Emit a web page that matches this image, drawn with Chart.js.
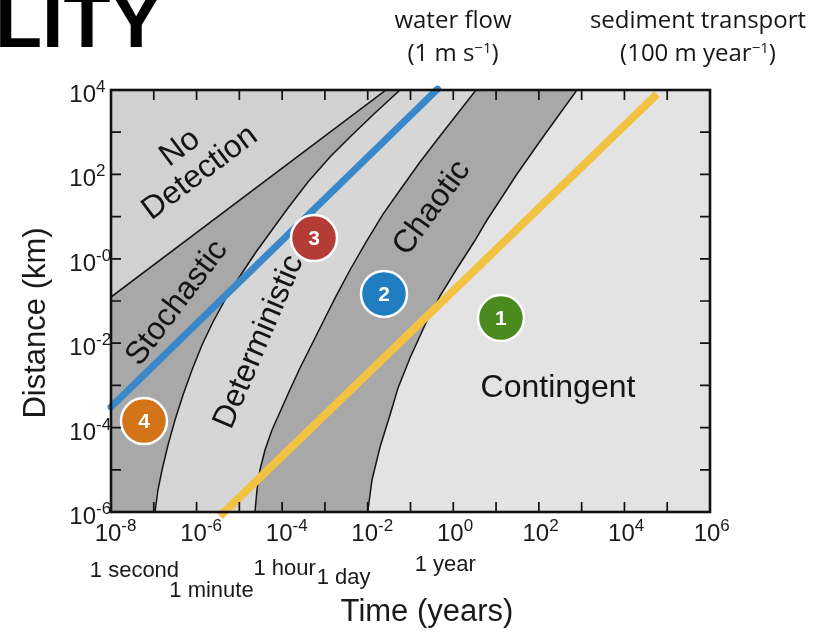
<!DOCTYPE html>
<html><head><meta charset="utf-8">
<script src="https://cdn.jsdelivr.net/npm/chart.js@4.4.1/dist/chart.umd.min.js"></script>
<style>html,body{margin:0;padding:0;background:#fff;}#wrap{width:820px;height:633px;position:relative;}</style>
</head><body><div id="wrap"><canvas id="c" width="820" height="633"></canvas></div>
<script>
// ---------- DATA (time in years, distance in km) ----------
const xMin = 1e-8, xMax = 1e6, yMin = 1e-6, yMax = 1e4;

// Boundary: No Detection | Stochastic (straight in log-log)
const curveA = [{x:1e-8, y:0.124}, {x:2.67e-2, y:1e4}];
// Boundary: Stochastic | Deterministic
const curveB = [
  {x:1.07e-7,y:1e-6},{x:1.25e-7,y:3.32e-6},{x:1.56e-7,y:9.89e-6},{x:2.15e-7,y:3.87e-5},
  {x:3.13e-7,y:1.51e-4},{x:4.82e-7,y:5.93e-4},{x:7.82e-7,y:2.32e-3},{x:1.34e-6,y:9.06e-3},
  {x:2.42e-6,y:3.18e-2},{x:4.61e-6,y:0.106},{x:1.04e-5,y:0.391},{x:2.45e-5,y:1.45},
  {x:5.79e-5,y:4.81},{x:1.37e-4,y:16.0},{x:4.02e-4,y:66.1},{x:1.31e-3,y:258},
  {x:4.30e-3,y:859},{x:1.48e-2,y:2850},{x:5.69e-2,y:1e4}
];
// Boundary: Deterministic | Chaotic
const curveC = [
  {x:2.32e-5,y:1e-6},{x:2.58e-5,y:3.32e-6},{x:3.03e-5,y:9.89e-6},{x:3.97e-5,y:2.94e-5},
  {x:5.79e-5,y:8.77e-5},{x:8.91e-5,y:2.34e-4},{x:1.37e-4,y:6.25e-4},{x:2.61e-4,y:2.58e-3},
  {x:4.99e-4,y:9.57e-3},{x:9.51e-4,y:3.55e-2},{x:1.82e-3,y:0.131},{x:3.85e-3,y:0.543},
  {x:9.12e-3,y:2.50},{x:2.28e-2,y:11.5},{x:5.69e-2,y:42.7},{x:0.167,y:197},
  {x:0.489,y:813},{x:1.29,y:2850},{x:3.40,y:1e4}
];
// Boundary: Chaotic | Contingent
const curveD = [
  {x:1.0e-2,y:1e-6},{x:1.26e-2,y:5.73e-6},{x:1.94e-2,y:3.47e-5},{x:3.32e-2,y:1.99e-4},
  {x:5.11e-2,y:8.68e-4},{x:9.73e-2,y:4.46e-3},{x:0.218,y:2.70e-2},{x:0.489,y:0.131},
  {x:1.16,y:0.543},{x:3.05,y:2.50},{x:6.14,y:8.30},{x:12.4,y:24.7},
  {x:30.8,y:102},{x:125,y:769},{x:778,y:1e4}
];
// Transport lines
const waterFlow = [{x:1e-8, y:3.08e-4}, {x:0.43, y:1.05e4}];      // 1 m/s
const sedimentTransport = [{x:3.53e-6, y:8.0e-7}, {x:5.77e4, y:8.0e3}]; // 100 m/yr
// Numbered sites
const siteLabels = ['1','2','3','4'];
const siteX = [13.0, 2.40e-2, 5.56e-4, 5.90e-8];
const siteY = [3.95e-2, 0.147, 3.11, 1.43e-4];
const siteColors = ['#4b8a1f','#1f7dc0','#b43c37','#d37419'];
// Ticks
const xTickMarks = [1e-8,1e-7,1e-6,1e-5,1e-4,1e-3,1e-2,1e-1,1,1e1,1e2,1e3,1e4,1e5,1e6];
const yTickMarks = [1e-6,1e-5,1e-4,1e-3,1e-2,1e-1,1,1e1,1e2,1e3,1e4];
const xLabelValues = [1e-8,1e-6,1e-4,1e-2,1,1e2,1e4,1e6];
const xLabelExp = ['-8','-6','-4','-2','0','2','4','6'];
const yLabelValues = [1e4,1e2,1,1e-2,1e-4,1e-6];
const yLabelExp = ['4','2','-0','-2','-4','-6'];
const timeRefLabels = ['1 second','1 minute','1 hour','1 day','1 year'];
const timeRefValues = [3.17e-8, 1.90e-6, 1.14e-4, 2.74e-3, 1];

// ---------- STYLE ----------
const C_CONT = '#e3e3e3', C_CHAO = '#a9a8a8', C_DET = '#d6d6d6', C_STO = '#a8a8a8', C_NOD = '#d1d1d1';
const leftCorners = [{x:xMin,y:yMax},{x:xMin,y:yMin}];
const region = (label, data, color, order, bw) => ({
  type:'line', label, data, backgroundColor:color, borderColor:'#151515',
  borderWidth: bw, fill:'shape', pointRadius:0, tension:0, order
});

const SANS = '"Liberation Sans", Arial, sans-serif';
const HUM = '"Open Sans", Lato, sans-serif';

function drawParts(ctx, parts, x, y, align) {
  let total = 0;
  parts.forEach(p => { ctx.font = p.f; p.w = ctx.measureText(p.t).width; total += p.w; });
  let cx = align === 'center' ? x - total/2 : align === 'right' ? x - total : x;
  ctx.textAlign = 'left'; ctx.textBaseline = 'alphabetic';
  parts.forEach(p => { ctx.font = p.f; ctx.fillText(p.t, cx, y - (p.dy || 0)); cx += p.w; });
}
function rotText(ctx, txt, x, y, deg, font) {
  ctx.save(); ctx.translate(x, y); ctx.rotate(deg * Math.PI/180);
  ctx.font = font; ctx.textAlign = 'center'; ctx.textBaseline = 'middle';
  ctx.fillText(txt, 0, 0); ctx.restore();
}

const deco = {
  id: 'deco',
  afterDatasetsDraw(chart) {
    const {ctx, chartArea: a, scales: {x, y}} = chart;
    ctx.save();
    // site numbers
    const meta = chart.getDatasetMeta(chart.data.datasets.length - 1);
    ctx.fillStyle = '#fff'; ctx.font = 'bold 21px ' + SANS;
    ctx.textAlign = 'center'; ctx.textBaseline = 'middle';
    meta.data.forEach((pt, i) => ctx.fillText(siteLabels[i], pt.x, pt.y + 1));

    // region labels
    ctx.fillStyle = '#141414';
    const lf = '32px ' + SANS;
    rotText(ctx, 'No', 180, 148, -37, lf);
    rotText(ctx, 'Detection', 200, 173, -37, lf);
    rotText(ctx, 'Stochastic', 177, 303, -53, lf);
    rotText(ctx, 'Deterministic', 259, 342, -67, lf);
    rotText(ctx, 'Chaotic', 432, 208, -54, lf);
    ctx.font = lf; ctx.textAlign = 'center'; ctx.textBaseline = 'alphabetic';
    ctx.fillText('Contingent', 558, 397);

    // frame and inward ticks
    ctx.strokeStyle = '#111'; ctx.lineWidth = 1.7;
    const tl = 10;
    ctx.beginPath();
    xTickMarks.forEach(v => { const px = x.getPixelForValue(v);
      ctx.moveTo(px, a.bottom); ctx.lineTo(px, a.bottom - tl);
      ctx.moveTo(px, a.top); ctx.lineTo(px, a.top + tl); });
    yTickMarks.forEach(v => { const py = y.getPixelForValue(v);
      ctx.moveTo(a.left, py); ctx.lineTo(a.left + tl, py);
      ctx.moveTo(a.right, py); ctx.lineTo(a.right - tl, py); });
    ctx.stroke();
    ctx.lineWidth = 2.6;
    ctx.strokeRect(a.left, a.top, a.right - a.left, a.bottom - a.top);

    // tick labels
    ctx.fillStyle = '#1a1a1a';
    const bf = '24px ' + SANS, sf = '17px ' + SANS;
    yLabelValues.forEach((v, i) => {
      const py = y.getPixelForValue(v);
      ctx.font = bf; ctx.textAlign = 'right'; ctx.textBaseline = 'alphabetic';
      ctx.fillText('10', 96, py + 12);
      ctx.font = sf; ctx.textAlign = 'left';
      ctx.fillText(yLabelExp[i], 96, py + 2);
    });
    xLabelValues.forEach((v, i) => {
      const px = x.getPixelForValue(v);
      ctx.font = bf; ctx.textAlign = 'center'; ctx.textBaseline = 'alphabetic';
      const w = ctx.measureText('10').width;
      ctx.fillText('10', px - 3, 541);
      ctx.font = sf; ctx.textAlign = 'left';
      ctx.fillText(xLabelExp[i], px - 3 + w/2, 531);
    });
    // reference time labels
    const tOff = [577, 597, 575, 584, 571];
    const tDx = [2, 3, 0, 0, -8];
    ctx.font = '22px ' + SANS; ctx.textAlign = 'center'; ctx.textBaseline = 'alphabetic';
    timeRefValues.forEach((v, i) => ctx.fillText(timeRefLabels[i], x.getPixelForValue(v) + tDx[i], tOff[i]));

    // axis titles
    ctx.font = '31px ' + SANS; ctx.textAlign = 'center';
    ctx.fillText('Time (years)', 427, 621);
    ctx.save(); ctx.translate(45, 323); ctx.rotate(-Math.PI/2);
    ctx.fillText('Distance (km)', 0, 0); ctx.restore();

    // top annotations
    ctx.fillStyle = '#161616';
    const af = '24px ' + HUM, asf = '15px ' + HUM;
    ctx.font = af; ctx.textAlign = 'center';
    ctx.fillText('water flow', 453, 28);
    ctx.fillText('sediment transport', 698, 28);
    drawParts(ctx, [{t:'(1 m s', f:af}, {t:'\u2212' + '1', f:asf, dy:8}, {t:')', f:af}], 453, 61, 'center');
    drawParts(ctx, [{t:'(100 m year', f:af}, {t:'\u2212' + '1', f:asf, dy:8}, {t:')', f:af}], 698, 61, 'center');

    // cropped title fragment
    ctx.fillStyle = '#000'; ctx.font = 'bold 77px ' + SANS; ctx.textAlign = 'left';
    ctx.fillText('LITY', -5, 47);
    ctx.restore();
  }
};

new Chart(document.getElementById('c'), {
  type: 'line',
  data: {
    datasets: [
      region('Contingent', [{x:xMin,y:yMin},{x:xMax,y:yMin},{x:xMax,y:yMax},{x:xMin,y:yMax}], C_CONT, 10, 0),
      region('Chaotic', curveD.concat(leftCorners), C_CHAO, 9, 1.5),
      region('Deterministic', curveC.concat(leftCorners), C_DET, 8, 1.5),
      region('Stochastic', curveB.concat(leftCorners), C_STO, 7, 1.5),
      region('No Detection', curveA.concat([{x:xMin,y:yMax}]), C_NOD, 6, 1.5),
      {type:'line', label:'water flow', data: waterFlow, borderColor:'#3a88c9', borderWidth:7,
       borderCapStyle:'round', pointRadius:0, fill:false, clip:false, order:4},
      {type:'line', label:'sediment transport', data: sedimentTransport, borderColor:'#f2c343', borderWidth:8,
       borderCapStyle:'butt', pointRadius:0, fill:false, clip:false, order:3},
      {type:'line', label:'sites', data: siteX.map((v, i) => ({x:v, y:siteY[i]})), showLine:false,
       pointRadius:23, pointHoverRadius:23, pointBackgroundColor: siteColors, pointBorderColor:'#ffffff',
       pointBorderWidth:2.5, order:1, clip:false}
    ]
  },
  options: {
    responsive: false, animation: false, devicePixelRatio: 1, events: [],
    layout: {padding: {left:111, right:110, top:90, bottom:121}},
    scales: {
      x: {type:'logarithmic', min:xMin, max:xMax, display:false},
      y: {type:'logarithmic', min:yMin, max:yMax, display:false}
    },
    plugins: {legend:{display:false}, tooltip:{enabled:false}, title:{display:false}}
  },
  plugins: [deco]
});
</script></body></html>
